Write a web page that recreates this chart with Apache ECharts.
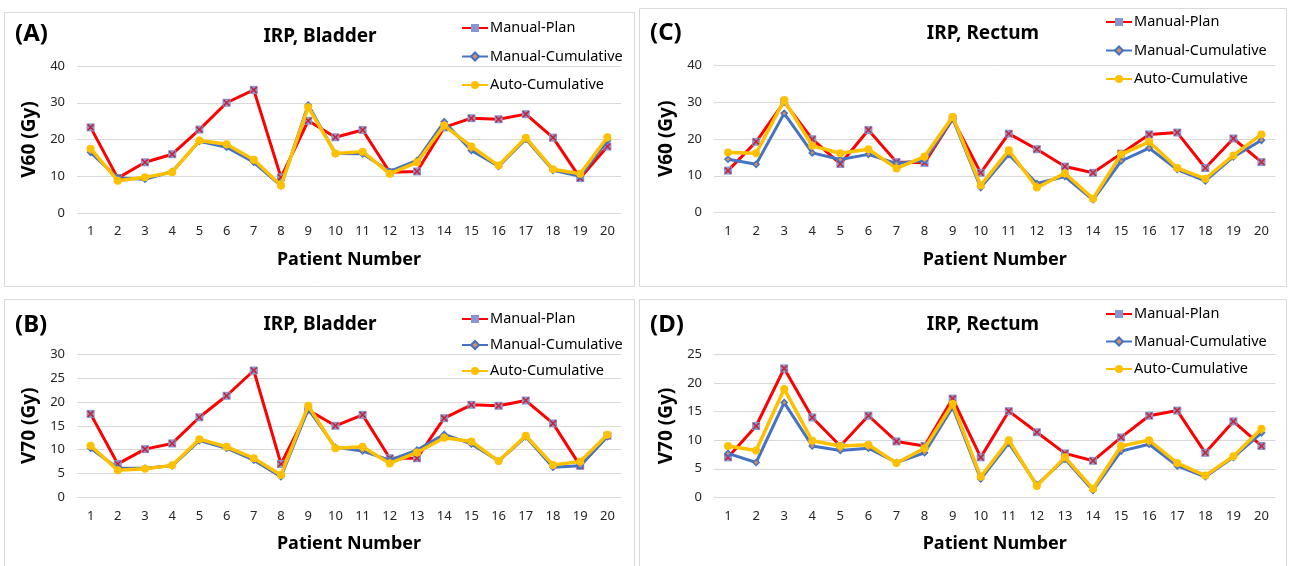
<!DOCTYPE html>
<html>
<head>
<meta charset="utf-8">
<script src="https://cdn.jsdelivr.net/npm/echarts@6/dist/echarts.min.js"></script>
<style>
html,body{margin:0;padding:0;background:#fff;}
#chart{width:1290px;height:566px;}
</style>
</head>
<body>
<div id="chart"></div>
<script>
// ---------- data ----------
const patients = ['1','2','3','4','5','6','7','8','9','10','11','12','13','14','15','16','17','18','19','20'];
const seriesNames = ['Manual-Plan','Manual-Cumulative','Auto-Cumulative'];

// (A) IRP, Bladder V60
const bladderV60Plan = [23.3,9.5,13.8,16.0,22.7,30.0,33.5,9.7,25.1,20.6,22.6,11.1,11.3,23.3,25.8,25.5,26.9,20.5,9.5,18.1];
const bladderV60ManCum = [16.5,9.5,9.2,11.3,19.5,17.9,13.8,7.4,29.4,16.2,16.1,11.3,14.3,24.8,17.0,12.7,20.1,11.6,10.0,19.7];
const bladderV60AutoCum = [17.5,8.8,9.7,11.1,19.7,18.7,14.5,7.5,28.8,16.2,16.7,10.7,13.8,23.8,18.1,12.9,20.5,11.9,10.7,20.6];

// (C) IRP, Rectum V60
const rectumV60Plan = [11.4,19.2,30.0,19.9,13.2,22.4,13.7,13.5,25.4,10.8,21.4,17.2,12.5,10.8,16.0,21.2,21.7,12.1,20.1,13.7];
const rectumV60ManCum = [14.5,13.1,26.9,16.2,14.4,15.8,13.3,14.2,25.5,6.8,15.8,7.9,9.8,3.5,14.0,17.5,11.7,8.6,15.1,19.6];
const rectumV60AutoCum = [16.3,16.1,30.5,18.1,16.1,17.2,12.0,15.2,26.0,7.4,16.9,6.8,10.7,3.8,15.8,19.2,12.1,9.2,15.5,21.2];

// (B) IRP, Bladder V70
const bladderV70Plan = [17.5,7.0,10.1,11.3,16.8,21.3,26.6,7.0,18.3,15.0,17.3,8.2,8.2,16.6,19.4,19.2,20.3,15.5,6.6,12.9];
const bladderV70ManCum = [10.3,6.1,6.1,6.6,11.9,10.3,7.8,4.3,18.5,10.5,9.7,7.8,9.9,13.2,11.2,7.6,12.7,6.3,6.6,12.7];
const bladderV70AutoCum = [10.8,5.7,6.0,6.7,12.2,10.6,8.2,4.7,19.2,10.3,10.6,7.1,9.4,12.5,11.7,7.6,12.9,6.8,7.5,13.1];

// (D) IRP, Rectum V70
const rectumV70Plan = [7.0,12.5,22.6,14.0,9.0,14.3,9.8,9.0,17.3,7.0,15.1,11.4,7.7,6.4,10.5,14.3,15.2,7.8,13.3,9.0];
const rectumV70ManCum = [7.7,6.1,16.6,9.0,8.2,8.6,6.1,7.8,15.8,3.2,9.5,2.2,6.7,1.2,8.1,9.3,5.5,3.6,7.0,11.3];
const rectumV70AutoCum = [9.0,8.2,19.0,9.9,9.0,9.2,6.0,8.6,16.4,3.6,10.0,2.0,7.0,1.5,9.0,10.0,6.0,3.8,7.2,12.0];

// axis ranges
const v60Axis = {min:0, max:40, interval:10};
const v70BladderAxis = {min:0, max:30, interval:5};
const v70RectumAxis = {min:0, max:25, interval:5};

// ---------- layout ----------
const FONT = 'Noto Sans';
const panels = [
  {letter:'(A)', title:'IRP, Bladder', yName:'V60 (Gy)', axis:v60Axis, data:[bladderV60Plan,bladderV60ManCum,bladderV60AutoCum],
   grid:{left:77, top:66, width:544, height:147}, box:[4.5,12.5,630,274], letterPos:[15,34], titlePos:[320,37], legend:{left:461, top:20.5, gap:13.5}},
  {letter:'(C)', title:'IRP, Rectum', yName:'V60 (Gy)', axis:v60Axis, data:[rectumV60Plan,rectumV60ManCum,rectumV60AutoCum],
   grid:{left:714, top:65, width:561.5, height:147.7}, box:[639.5,8.5,647,278], letterPos:[650,33], titlePos:[983,34], legend:{left:1105, top:14.5, gap:13.5}},
  {letter:'(B)', title:'IRP, Bladder', yName:'V70 (Gy)', axis:v70BladderAxis, data:[bladderV70Plan,bladderV70ManCum,bladderV70AutoCum],
   grid:{left:77, top:354.3, width:544, height:143}, box:[4.5,299.5,630,270], letterPos:[15,325], titlePos:[320,325], legend:{left:461, top:311.5, gap:11}},
  {letter:'(D)', title:'IRP, Rectum', yName:'V70 (Gy)', axis:v70RectumAxis, data:[rectumV70Plan,rectumV70ManCum,rectumV70AutoCum],
   grid:{left:714, top:354.7, width:561.5, height:142.6}, box:[639.5,299.5,647,270], letterPos:[650,325], titlePos:[983,325], legend:{left:1105, top:306.5, gap:12.5}}
];

const RED='#FF0000', BLUE='#4472C4', YEL='#FFC000';
const xPath = 'path://M0,1.5L1.5,0L5,3.5L8.5,0L10,1.5L6.5,5L10,8.5L8.5,10L5,6.5L1.5,10L0,8.5L3.5,5Z';

const grids=[], xAxes=[], yAxes=[], series=[], legends=[], graphics=[];
panels.forEach((p,i)=>{
  grids.push(Object.assign({containLabel:false}, p.grid));
  xAxes.push({
    type:'category', gridIndex:i, data:patients, boundaryGap:true,
    name:'Patient Number', nameLocation:'middle', nameGap:38,
    nameTextStyle:{fontFamily:FONT, fontWeight:'bold', fontSize:18, color:'#000'},
    axisLine:{show:false}, axisTick:{show:false},
    axisLabel:{fontFamily:FONT, fontSize:13, color:'#262626', margin:12, interval:0}
  });
  yAxes.push({
    type:'value', gridIndex:i, min:p.axis.min, max:p.axis.max, interval:p.axis.interval,
    name:p.yName, nameLocation:'middle', nameGap:38,
    nameTextStyle:{fontFamily:FONT, fontWeight:'bold', fontSize:19, color:'#000'},
    axisLine:{show:false}, axisTick:{show:false},
    axisLabel:{fontFamily:FONT, fontSize:13, color:'#262626', margin:12},
    splitLine:{lineStyle:{color:'#d9d9d9', width:1}}
  });
  series.push({
    name:seriesNames[0], type:'line', xAxisIndex:i, yAxisIndex:i, data:p.data[0], z:2,
    symbol:'rect', symbolSize:8, lineStyle:{color:RED, width:3},
    itemStyle:{color:'#8797D6', borderColor:'#8797D6', borderWidth:0}
  });
  series.push({
    type:'scatter', xAxisIndex:i, yAxisIndex:i, data:p.data[0], z:3, silent:true,
    symbol:xPath, symbolSize:7, itemStyle:{color:'#E00000'}
  });
  series.push({
    name:seriesNames[1], type:'line', xAxisIndex:i, yAxisIndex:i, data:p.data[1], z:4,
    symbol:'diamond', symbolSize:6, lineStyle:{color:BLUE, width:3},
    itemStyle:{color:'#D9935A', borderColor:BLUE, borderWidth:1.5}
  });
  series.push({
    name:seriesNames[2], type:'line', xAxisIndex:i, yAxisIndex:i, data:p.data[2], z:5,
    symbol:'circle', symbolSize:8, lineStyle:{color:YEL, width:3.5},
    itemStyle:{color:YEL}
  });
  legends.push({
    data:seriesNames, orient:'vertical', left:p.legend.left, top:p.legend.top, itemGap:p.legend.gap,
    padding:0, itemWidth:26, itemHeight:10, selectedMode:false,
    textStyle:{fontFamily:FONT, fontSize:14.5, color:'#000', padding:[0,0,0,-3]}
  });
  graphics.push({type:'rect', silent:true, z:-1, shape:{x:p.box[0], y:p.box[1], width:p.box[2], height:p.box[3]},
    style:{fill:'none', stroke:'#d9d9d9', lineWidth:1}});
  graphics.push({type:'text', silent:true, x:p.letterPos[0], y:p.letterPos[1],
    style:{text:p.letter, fontFamily:FONT, fontWeight:'bold', fontSize:24, fill:'#000', textAlign:'left', textVerticalAlign:'middle'}});
  graphics.push({type:'text', silent:true, x:p.titlePos[0], y:p.titlePos[1],
    style:{text:p.title, fontFamily:FONT, fontWeight:'bold', fontSize:19, fill:'#000', textAlign:'center', textVerticalAlign:'middle'}});
});

const chart = echarts.init(document.getElementById('chart'), null, {renderer:'canvas'});
chart.setOption({
  animation:false,
  backgroundColor:'#fff',
  grid:grids, xAxis:xAxes, yAxis:yAxes, series:series, legend:legends, graphic:graphics
});
</script>
</body>
</html>
